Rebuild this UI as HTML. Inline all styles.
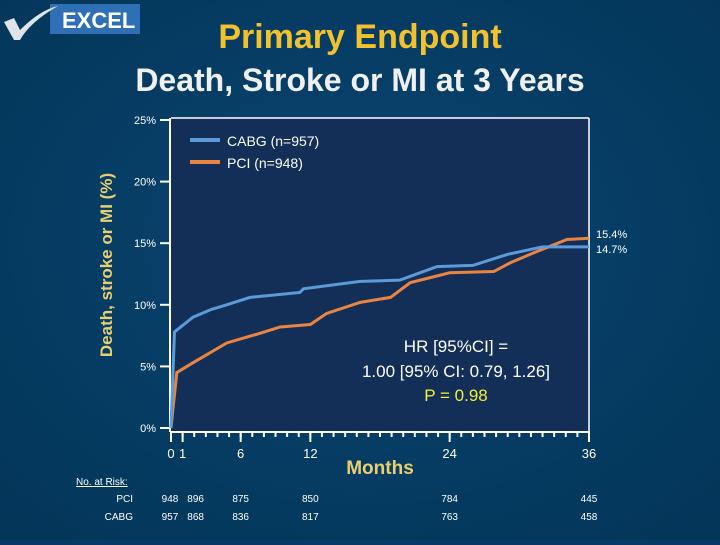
<!DOCTYPE html>
<html><head><meta charset="utf-8"><style>
body{margin:0;width:720px;height:540px;overflow:hidden;background:#053c66;font-family:"Liberation Sans",sans-serif}
</style></head><body>
<svg width="720" height="540" xmlns="http://www.w3.org/2000/svg">
<defs><radialGradient id="bg" cx="0.5" cy="0.45" r="0.7"><stop offset="0" stop-color="#0a4572"/><stop offset="1" stop-color="#033659"/></radialGradient></defs>
<rect width="720" height="540" fill="url(#bg)"/>
<g>
<rect x="50" y="4" width="90" height="30" fill="#2e6fb5"/>
<path d="M4 22 L14 18 L20 30 Q40 10 58 6 Q30 22 20 40 L14 40 Z" fill="#dde4ec"/>
<text x="62" y="28" fill="#fff" font-size="22" font-weight="bold">EXCEL</text>
</g>
<text x="360" y="48" text-anchor="middle" fill="#f2c12e" font-size="34" font-weight="bold">Primary Endpoint</text>
<text x="360" y="91" text-anchor="middle" fill="#f0f0f0" font-size="32" font-weight="bold">Death, Stroke or MI at 3 Years</text>
<rect x="171" y="118" width="418" height="313" fill="#132f58"/>
<line x1="589" y1="118" x2="589" y2="431" stroke="#fff" stroke-width="1.5"/>
<line x1="171" y1="118" x2="589" y2="118" stroke="#fff" stroke-width="1.5"/>
<g id="axes"></g>
<text transform="translate(112,265) rotate(-90)" text-anchor="middle" fill="#e9cf6f" font-size="17" font-weight="bold">Death, stroke or MI (%)</text>
<text x="380" y="474" text-anchor="middle" fill="#e9cf6f" font-size="19" font-weight="bold">Months</text>
<g id="series"></g>
<g>
<line x1="190" y1="140" x2="220" y2="140" stroke="#5b9bd9" stroke-width="4"/>
<text x="227" y="146" fill="#fff" font-size="14">CABG (n=957)</text>
<line x1="190" y1="162" x2="220" y2="162" stroke="#ea8443" stroke-width="4"/>
<text x="227" y="168" fill="#fff" font-size="14">PCI (n=948)</text>
</g>
<text x="596" y="238" fill="#fff" font-size="11">15.4%</text>
<text x="596" y="253" fill="#fff" font-size="11">14.7%</text>
<g text-anchor="middle" font-size="17">
<text x="456" y="352" fill="#fff">HR [95%CI] =</text>
<text x="456" y="377" fill="#fff">1.00 [95% CI: 0.79, 1.26]</text>
<text x="456" y="401" fill="#f0f03a">P = 0.98</text>
</g>
<text x="76" y="485" fill="#fff" font-size="10" text-decoration="underline">No. at Risk:</text>
<text x="133" y="502" text-anchor="end" fill="#fff" font-size="10">PCI</text>
<text x="133" y="520" text-anchor="end" fill="#fff" font-size="10">CABG</text>
<g id="risk"></g>
</svg>
<script>
const yTicks=[0,5,10,15,20,25];
const xTicks=[0,1,6,12,24,36];
const cabgMonths=[0,0.3,1.9,3.4,4.8,6.8,11.1,11.4,16.3,19.7,22.9,26,29,32,36];
const cabgPct=[0,7.8,9.0,9.6,10.0,10.6,11.0,11.3,11.9,12.0,13.1,13.2,14.1,14.7,14.7];
const pciMonths=[0,0.5,1.9,4.8,7.7,9.4,12,13.4,16.3,18.9,20.6,24,27.8,29.2,31.2,34.1,36];
const pciPct=[0,4.5,5.3,6.9,7.7,8.2,8.4,9.3,10.2,10.6,11.8,12.6,12.7,13.4,14.2,15.3,15.4];
const riskMonths=[0,1,6,12,24,36];
const riskPCI=[948,896,875,850,784,445];
const riskCABG=[957,868,836,817,763,458];
const NS="http://www.w3.org/2000/svg";
const X=m=>171+m*(589-171)/36;
const Y=p=>428-p*(428-120)/25;
function mk(t,a,p){const e=document.createElementNS(NS,t);for(const k in a)e.setAttribute(k,a[k]);p.appendChild(e);return e;}
const ax=document.getElementById('axes');
const yl=mk('line',{x1:170,y1:118,x2:170,y2:432,stroke:'#fff','stroke-width':2},ax);


const xl=mk('line',{x1:170,y1:432,x2:590,y2:432,stroke:'#fff','stroke-width':2},ax);


for(let m=0;m<=36;m++){mk('line',{x1:X(m),y1:432,x2:X(m),y2:437,stroke:'#fff','stroke-width':2},ax);}
yTicks.forEach(v=>{
 mk('line',{x1:160,y1:Y(v),x2:170,y2:Y(v),stroke:'#fff','stroke-width':2},ax);
 const t=mk('text',{x:156,y:Y(v)+4,'text-anchor':'end',fill:'#fff','font-size':11},ax);
 t.textContent=v+'%';
 
 
});
xTicks.forEach(v=>{
 mk('line',{x1:X(v),y1:432,x2:X(v),y2:442,stroke:'#fff','stroke-width':2},ax);
 const t=mk('text',{x:X(v),y:458,'text-anchor':'middle',fill:'#fff','font-size':13},ax);
 t.textContent=v;
 
 
});
function smooth(ms,ps){let d='M'+X(ms[0])+' '+Y(ps[0]);for(let i=1;i<ms.length;i++)d+=' L'+X(ms[i])+' '+Y(ps[i]);return d;}
const sg=document.getElementById('series');
const pl=mk('path',{d:smooth(pciMonths,pciPct),fill:'none',stroke:'#ea8443','stroke-width':3},sg);


const cl=mk('path',{d:smooth(cabgMonths,cabgPct),fill:'none',stroke:'#5b9bd9','stroke-width':3},sg);


const rg=document.getElementById('risk');
riskMonths.forEach((m,i)=>{
 const dx=m===0?-1:(m===1?13:0);
 const a=mk('text',{x:X(m)+dx,y:502,'text-anchor':'middle',fill:'#fff','font-size':10},rg);
 a.textContent=riskPCI[i];
 
 
 const b=mk('text',{x:X(m)+dx,y:520,'text-anchor':'middle',fill:'#fff','font-size':10},rg);
 b.textContent=riskCABG[i];
 
 
});
</script>
</body></html>
